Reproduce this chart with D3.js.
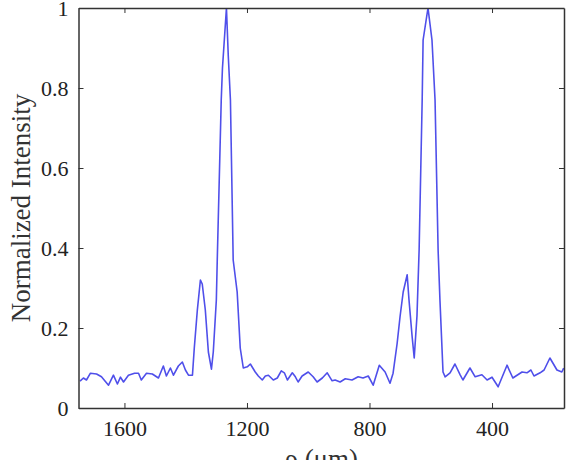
<html>
  <body style="margin:0;background:#fff;">
    <style>
      .tick text { font-family: "Liberation Serif", "Times New Roman", serif; font-size: 22px; fill: #222; }
      .frame line, .frame path { stroke: #333; }
      .lbl { font-family: "Liberation Serif", "Times New Roman", serif; font-size: 27px; fill: #333; }
    </style>
    <div id="chart"></div>
    <script src="https://d3js.org/d3.v7.min.js"></script>
    <script type="text/javascript">
      // rho in um, normalized intensity
      var rho = [1745, 1734, 1724, 1711, 1691, 1675, 1652, 1636, 1623, 1613, 1603, 1587, 1567, 1554,
        1545, 1528, 1509, 1489, 1473, 1463, 1450, 1440, 1424, 1411, 1401, 1391, 1378, 1372, 1362,
        1352, 1346, 1336, 1326, 1316, 1310, 1300, 1297, 1284, 1280, 1267, 1261, 1254, 1245, 1232,
        1222, 1212, 1199, 1189, 1173, 1163, 1150, 1140, 1130, 1114, 1101, 1088, 1078, 1068, 1052,
        1042, 1033, 1020, 1000, 984, 971, 954, 938, 922, 912, 896, 879, 857, 837, 821, 804, 788,
        768, 749, 733, 723, 710, 700, 690, 677, 671, 661, 654, 645, 638, 628, 625, 609, 596, 586,
        576, 570, 560, 553, 537, 521, 504, 495, 472, 455, 433, 416, 400, 380, 351, 332, 302, 286,
        273, 263, 243, 230, 211, 188, 172, 166];
      var intensity = [0.067, 0.075, 0.07, 0.087, 0.085, 0.078, 0.057, 0.082, 0.06, 0.077, 0.065, 0.082, 0.087, 0.087,
        0.07, 0.087, 0.085, 0.075, 0.105, 0.08, 0.1, 0.082, 0.105, 0.115, 0.095, 0.082, 0.082, 0.15, 0.245,
        0.32, 0.31, 0.245, 0.14, 0.097, 0.14, 0.27, 0.37, 0.77, 0.85, 1.0, 0.88, 0.77, 0.37, 0.29,
        0.15, 0.10, 0.103, 0.11, 0.09, 0.08, 0.07, 0.08, 0.082, 0.07, 0.075, 0.093, 0.088, 0.07, 0.088,
        0.078, 0.065, 0.08, 0.09, 0.078, 0.065, 0.075, 0.088, 0.068, 0.07, 0.065, 0.073, 0.07, 0.078, 0.075, 0.08, 0.057,
        0.107, 0.09, 0.062, 0.087, 0.16, 0.23, 0.29, 0.333, 0.27, 0.18, 0.125, 0.23, 0.395, 0.77, 0.92, 1.0, 0.92, 0.77,
        0.395, 0.27, 0.09, 0.078, 0.088, 0.11, 0.083, 0.07, 0.1, 0.078, 0.083, 0.07, 0.077, 0.053, 0.107, 0.075, 0.09, 0.088,
        0.095, 0.08, 0.088, 0.095, 0.125, 0.095, 0.09, 0.1];
      var xTicks = [1600, 1200, 800, 400];
      var yTicks = [0, 0.2, 0.4, 0.6, 0.8, 1];

      var data = rho.map(function(r, i) { return {x: r, y: intensity[i]}; });

      var W = 566, H = 460,
        margin = {top: 8, right: 2, bottom: 52, left: 78.5},
        width = W - margin.left - margin.right,
        height = H - margin.top - margin.bottom;

      var svg = d3.select("#chart").append("svg")
        .attr("width", W).attr("height", H);
      var g = svg.append("g")
        .attr("transform", "translate(" + margin.left + "," + margin.top + ")");

      var x = d3.scaleLinear().domain([1750, 165]).range([0, width]);
      var y = d3.scaleLinear().domain([0, 1]).range([height, 0]);

      g.append("clipPath").attr("id", "clip")
        .append("rect").attr("width", width).attr("height", height);

      var line = d3.line()
        .x(function(d) { return x(d.x); })
        .y(function(d) { return y(d.y); });

      g.append("path")
        .datum(data)
        .attr("clip-path", "url(#clip)")
        .attr("fill", "none")
        .attr("stroke", "#4f4fea")
        .attr("stroke-width", 1.6)
        .attr("stroke-linejoin", "round")
        .attr("d", line);

      // box with inward ticks on all four sides
      function frame(axis, tr, labels) {
        var a = g.append("g").attr("class", "frame")
          .attr("transform", tr)
          .call(axis);
        a.select(".domain").attr("stroke-width", 1.5);
        if (!labels) a.selectAll("text").remove();
        return a;
      }
      frame(d3.axisBottom(x).tickValues(xTicks).tickSizeInner(-5).tickSizeOuter(0).tickPadding(12)
        .tickFormat(d3.format("d")), "translate(0," + height + ")", true);
      frame(d3.axisTop(x).tickValues(xTicks).tickSizeInner(-5).tickSizeOuter(0), "translate(0,0)", false);
      frame(d3.axisLeft(y).tickValues(yTicks).tickSizeInner(-5).tickSizeOuter(0).tickPadding(10)
        .tickFormat(function(d) { return d === 0 || d === 1 ? d : d3.format(".1f")(d); }), "translate(0,0)", true);
      frame(d3.axisRight(y).tickValues(yTicks).tickSizeInner(-5).tickSizeOuter(0), "translate(" + width + ",0)", false);

      svg.append("text").attr("class", "lbl")
        .attr("text-anchor", "middle")
        .attr("transform", "translate(30," + (margin.top + height / 2) + ") rotate(-90)")
        .text("Normalized Intensity");

      svg.append("text").attr("class", "lbl")
        .attr("text-anchor", "middle")
        .attr("x", margin.left + width / 2)
        .attr("y", H + 8)
        .text("\u03c1 (\u03bcm)");
    </script>
  </body>
</html>
